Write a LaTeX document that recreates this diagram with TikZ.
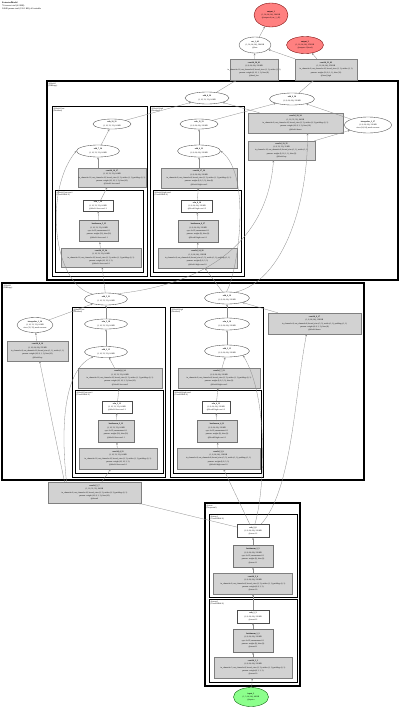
\documentclass[tikz,border=0pt]{standalone}
\usepackage{fontspec}
\setmainfont{Liberation Serif}
\usetikzlibrary{shapes.geometric,arrows.meta}
\tikzset{
 txt/.style={inner sep=0, align=center, font=\fontsize{2}{3.3}\selectfont},
 ell/.style={ellipse, draw=black!70, line width=0.35pt, fill=white, inner sep=0},
 gbox/.style={rectangle, draw=black!50, line width=0.35pt, fill=gray!35, inner sep=0},
 bnbox/.style={gbox, line width=1pt, draw=black!55},
 wbox/.style={rectangle, draw=black!70, line width=0.35pt, fill=white, inner sep=0},
 outell/.style={ell, fill=red!50, draw=red!45!black},
 inell/.style={ell, fill=green!45, draw=green!35!black},
 cla/.style={draw=black, line width=1.2pt},
 clb/.style={draw=black, line width=0.8pt},
 clc/.style={draw=black, line width=0.6pt},
 edge/.style={draw=black!45, line width=0.3pt, -{Stealth[length=2.2pt,width=1.8pt]}},
 cltxt/.style={anchor=north west, inner sep=0, align=left, font=\fontsize{2}{2.5}\selectfont},
}
\newcommand\mk[7]{\node[#2, minimum width=#5pt, minimum height=#6pt] (#1) at (#3,#4) {};
  \node[txt] (#1t) at (#1) {#7};}
\begin{document}
\begin{tikzpicture}[x=1pt,y=-1pt]
\useasboundingbox[fill=white] (0,0) rectangle (400,707);
\node[cltxt, font=\fontsize{2.2}{2.9}\selectfont] (hdr) at (2,2) {\textbf{ExtractedModel}\\76 tensors total (4.2 MB)\\34848 params total (136.1 KB), all trainable};

% clusters
\draw[cla] (47,81) rectangle (398,280);
\node[cltxt] (lblA) at (48.5,82.5) {@block1\\(HRStage)};
\draw[clb] (52,106) rectangle (147,276);
\node[cltxt] (lblAl) at (53.5,107.5) {@block1.low\\(Residual)};
\draw[clc] (55,190) rectangle (143,272);
\node[cltxt] (lblAls) at (56.5,191.5) {@block1.low.conv1\\(ConvBNReLU)};
\draw[clb] (150,106) rectangle (244,276);
\node[cltxt] (lblAh) at (151.5,107.5) {@block1.high\\(Residual)};
\draw[clc] (153,190) rectangle (241,272);
\node[cltxt] (lblAhs) at (154.5,191.5) {@block1.high.conv1\\(ConvBNReLU)};

\draw[cla] (2,283) rectangle (364,480);
\node[cltxt] (lblB) at (3.5,284.5) {@block2\\(HRStage)};
\draw[clb] (72,307) rectangle (165,477);
\node[cltxt] (lblBl) at (73.5,308.5) {@block2.low\\(Residual)};
\draw[clc] (75,390) rectangle (163,473);
\node[cltxt] (lblBls) at (76.5,391.5) {@block2.low.conv1\\(ConvBNReLU)};
\draw[clb] (170,307) rectangle (263,477);
\node[cltxt] (lblBh) at (171.5,308.5) {@block2.high\\(Residual)};
\draw[clc] (173,390) rectangle (261,473);
\node[cltxt] (lblBhs) at (174.5,391.5) {@block2.high.conv1\\(ConvBNReLU)};

\draw[cla] (205,503) rectangle (300,686);
\node[cltxt] (lblS) at (206.5,504.5) {@stem\\(Sequential)};
\draw[clb] (209,514) rectangle (297,597);
\node[cltxt] (lblS1) at (210.5,515.5) {@stem.1\\(ConvBNReLU)};
\draw[clb] (209,599) rectangle (297,682);
\node[cltxt] (lblS0) at (210.5,600.5) {@stem.0\\(ConvBNReLU)};

% top
\mk{out1}{outell}{271}{15}{34}{24}{\textbf{output\_1}\\(1, 24, 64, 64), 384 KB\\@outputs.0 (cat\_1\_46)}
\mk{cat}{ell}{255}{45}{32}{16}{\textbf{cat\_1\_46}\\(1, 24, 64, 64), 384 KB\\@fuse}
\mk{out2}{outell}{305}{45}{37}{17}{\textbf{output\_2}\\(1, 16, 64, 64), 256 KB\\@outputs.1 (head)}
\mk{c20}{gbox}{254}{69.5}{48}{21}{\textbf{conv2d\_20\_61}\\(1, 8, 64, 64), 128 KB\\in\_channels=16, out\_channels=8, kernel\_size=(1, 1), stride=(1, 1)\\params: weight (8, 16, 1, 1), bias (8)\\@head\_low}
\mk{c21}{gbox}{326}{69.5}{62}{21}{\textbf{conv2d\_21\_62}\\(1, 16, 64, 64), 256 KB\\in\_channels=8, out\_channels=16, kernel\_size=(1, 1), stride=(1, 1)\\params: weight (16, 8, 1, 1), bias (16)\\@head\_high}

% block1
\mk{addA}{ell}{207}{98}{44}{12}{\textbf{add\_8\_36}\\(1, 16, 32, 32), 64 KB}
\mk{addB}{ell}{292}{99}{45}{12}{\textbf{add\_9\_38}\\(1, 8, 64, 64), 128 KB}
\mk{c11}{gbox}{295.5}{123}{95}{20}{\textbf{conv2d\_18\_34}\\(1, 16, 32, 32), 64 KB\\in\_channels=8, out\_channels=16, kernel\_size=(3, 3), stride=(2, 2), padding=(1, 1)\\params: weight (16, 8, 3, 3), bias (16)\\@block1.down}
\mk{interp1}{ell}{368}{125}{47}{16}{\textbf{interpolate\_2\_37}\\(1, 8, 64, 64), 128 KB\\size=(64, 64), mode=nearest}
\mk{c12}{gbox}{281.5}{150.5}{67}{19}{\textbf{conv2d\_19\_35}\\(1, 8, 32, 32), 32 KB\\in\_channels=16, out\_channels=8, kernel\_size=(1, 1), stride=(1, 1)\\params: weight (8, 16, 1, 1), bias (8)\\@block1.up}
\mk{reluL1}{ell}{112}{124}{38}{10}{\textbf{relu\_10\_31}\\(1, 16, 32, 32), 64 KB}
\mk{addL1}{ell}{98}{151}{43}{12}{\textbf{add\_7\_30}\\(1, 16, 32, 32), 64 KB}
\mk{convL1}{gbox}{112}{177.5}{68}{19}{\textbf{conv2d\_16\_27}\\(1, 16, 32, 32), 64 KB\\in\_channels=16, out\_channels=16, kernel\_size=(3, 3), stride=(1, 1), padding=(1, 1)\\params: weight (16, 16, 3, 3), bias (16)\\@block1.low.conv2}
\mk{reluLs1}{wbox}{98}{205.5}{30}{11}{\textbf{relu\_7\_26}\\(1, 16, 32, 32), 64 KB\\@block1.low.conv1.2}
\mk{bnLs1}{bnbox}{99}{231}{39}{21}{\textbf{batchnorm\_5\_25}\\(1, 16, 32, 32), 64 KB\\eps=1e-05, momentum=0.1\\params: weight (16), bias (16)\\@block1.low.conv1.1}
\mk{convLs1}{gbox}{101}{257.5}{80}{19}{\textbf{conv2d\_15\_24}\\(1, 16, 32, 32), 64 KB\\in\_channels=16, out\_channels=16, kernel\_size=(3, 3), stride=(1, 1), padding=(1, 1)\\params: weight (16, 16, 3, 3)\\@block1.low.conv1.0}
\mk{reluH1}{ell}{199}{124}{38}{10}{\textbf{relu\_11\_33}\\(1, 8, 64, 64), 128 KB}
\mk{addH1}{ell}{199}{151}{43}{12}{\textbf{add\_6\_32}\\(1, 8, 64, 64), 128 KB}
\mk{convH1}{gbox}{199}{178}{76}{20}{\textbf{conv2d\_17\_29}\\(1, 8, 64, 64), 128 KB\\in\_channels=8, out\_channels=8, kernel\_size=(3, 3), stride=(1, 1), padding=(1, 1)\\params: weight (8, 8, 3, 3), bias (8)\\@block1.high.conv2}
\mk{reluHs1}{wbox}{197}{206}{31}{12}{\textbf{relu\_8\_28}\\(1, 8, 64, 64), 128 KB\\@block1.high.conv1.2}
\mk{bnHs1}{bnbox}{198}{231}{40}{22}{\textbf{batchnorm\_6\_27}\\(1, 8, 64, 64), 128 KB\\eps=1e-05, momentum=0.1\\params: weight (8), bias (8)\\@block1.high.conv1.1}
\mk{convHs1}{gbox}{197.5}{258}{79}{20}{\textbf{conv2d\_14\_26}\\(1, 8, 64, 64), 128 KB\\in\_channels=8, out\_channels=8, kernel\_size=(3, 3), stride=(1, 1), padding=(1, 1)\\params: weight (8, 8, 3, 3)\\@block1.high.conv1.0}

% block2
\mk{addC}{ell}{106}{299}{43}{12}{\textbf{add\_5\_21}\\(1, 16, 32, 32), 64 KB}
\mk{addD}{ell}{227}{298}{45}{12}{\textbf{add\_4\_19}\\(1, 8, 64, 64), 128 KB}
\mk{interp2}{ell}{35}{325}{36}{15}{\textbf{interpolate\_1\_20}\\(1, 16, 32, 32), 64 KB\\size=(32, 32), mode=nearest}
\mk{c6}{gbox}{37.5}{351}{61}{20}{\textbf{conv2d\_8\_16}\\(1, 16, 64, 64), 256 KB\\in\_channels=8, out\_channels=16, kernel\_size=(1, 1), stride=(1, 1)\\params: weight (16, 8, 1, 1), bias (16)\\@block2.up}
\mk{c7}{gbox}{314.5}{323.5}{93}{21}{\textbf{conv2d\_9\_17}\\(1, 8, 64, 64), 128 KB\\in\_channels=8, out\_channels=8, kernel\_size=(3, 3), stride=(1, 1), padding=(1, 1)\\params: weight (8, 8, 3, 3), bias (8)\\@block2.down}
\mk{reluL2}{ell}{106}{324}{43}{10}{\textbf{relu\_5\_18}\\(1, 16, 32, 32), 64 KB}
\mk{addL2}{ell}{106}{352}{43}{11}{\textbf{add\_2\_15}\\(1, 16, 32, 32), 64 KB}
\mk{convL2}{gbox}{120}{378}{84}{20}{\textbf{conv2d\_6\_14}\\(1, 16, 32, 32), 64 KB\\in\_channels=16, out\_channels=16, kernel\_size=(3, 3), stride=(1, 1), padding=(1, 1)\\params: weight (16, 16, 3, 3), bias (16)\\@block2.low.conv2}
\mk{reluLs2}{wbox}{117}{407}{30}{12}{\textbf{relu\_3\_13}\\(1, 16, 32, 32), 64 KB\\@block2.low.conv1.2}
\mk{bnLs2}{bnbox}{116}{431}{36}{22}{\textbf{batchnorm\_3\_12}\\(1, 16, 32, 32), 64 KB\\eps=1e-05, momentum=0.1\\params: weight (16), bias (16)\\@block2.low.conv1.1}
\mk{convLs2}{gbox}{118}{458.5}{78}{21}{\textbf{conv2d\_4\_11}\\(1, 16, 32, 32), 64 KB\\in\_channels=16, out\_channels=16, kernel\_size=(3, 3), stride=(1, 1), padding=(1, 1)\\params: weight (16, 16, 3, 3)\\@block2.low.conv1.0}
\mk{reluH2}{ell}{227}{324}{45}{12}{\textbf{relu\_6\_16}\\(1, 8, 64, 64), 128 KB}
\mk{addH2}{ell}{227}{351}{45}{12}{\textbf{add\_3\_15}\\(1, 8, 64, 64), 128 KB}
\mk{convH2}{gbox}{219}{378}{82}{20}{\textbf{conv2d\_7\_13}\\(1, 8, 64, 64), 128 KB\\in\_channels=8, out\_channels=8, kernel\_size=(3, 3), stride=(1, 1), padding=(1, 1)\\params: weight (8, 8, 3, 3), bias (8)\\@block2.high.conv2}
\mk{reluHs2}{wbox}{216}{407}{28}{12}{\textbf{relu\_4\_12}\\(1, 8, 64, 64), 128 KB\\@block2.high.conv1.2}
\mk{bnHs2}{bnbox}{217}{431}{40}{22}{\textbf{batchnorm\_4\_11}\\(1, 8, 64, 64), 128 KB\\eps=1e-05, momentum=0.1\\params: weight (8), bias (8)\\@block2.high.conv1.1}
\mk{convHs2}{gbox}{218.5}{458.5}{83}{21}{\textbf{conv2d\_3\_9}\\(1, 8, 64, 64), 128 KB\\in\_channels=8, out\_channels=8, kernel\_size=(3, 3), stride=(1, 1), padding=(1, 1)\\params: weight (8, 8, 3, 3)\\@block2.high.conv1.0}

\mk{c5}{gbox}{94.5}{492.5}{93}{21}{\textbf{conv2d\_5\_7}\\(1, 16, 32, 32), 64 KB\\in\_channels=8, out\_channels=16, kernel\_size=(3, 3), stride=(2, 2), padding=(1, 1)\\params: weight (16, 8, 3, 3), bias (16)\\@down0}

% stem
\mk{reluD1}{wbox}{253}{531}{32}{13}{\textbf{relu\_2\_6}\\(1, 8, 64, 64), 128 KB\\@stem.1.2}
\mk{bnD1}{bnbox}{253}{556}{40}{22}{\textbf{batchnorm\_2\_5}\\(1, 8, 64, 64), 128 KB\\eps=1e-05, momentum=0.1\\params: weight (8), bias (8)\\@stem.1.1}
\mk{convD1}{gbox}{253}{583.5}{79}{21}{\textbf{conv2d\_2\_4}\\(1, 8, 64, 64), 128 KB\\in\_channels=8, out\_channels=8, kernel\_size=(3, 3), stride=(1, 1), padding=(1, 1)\\params: weight (8, 8, 3, 3)\\@stem.1.0}
\mk{reluD0}{wbox}{253}{616.5}{32}{13}{\textbf{relu\_1\_3}\\(1, 8, 64, 64), 128 KB\\@stem.0.2}
\mk{bnD0}{bnbox}{253}{640.5}{40}{23}{\textbf{batchnorm\_1\_2}\\(1, 8, 64, 64), 128 KB\\eps=1e-05, momentum=0.1\\params: weight (8), bias (8)\\@stem.0.1}
\mk{convD0}{gbox}{253}{667.5}{78}{21}{\textbf{conv2d\_1\_1}\\(1, 8, 64, 64), 128 KB\\in\_channels=3, out\_channels=8, kernel\_size=(3, 3), stride=(1, 1), padding=(1, 1)\\params: weight (8, 3, 3, 3)\\@stem.0.0}
\mk{inp}{inell}{251}{697}{35}{19}{\textbf{input\_1}\\(1, 3, 64, 64), 48 KB\\@input.x}

% edges top
\draw[edge] (cat) -- (out1);
\draw[edge] (c20) -- (cat);
\draw[edge] (c21) -- (cat);
\draw[edge] (c21) -- (out2);
\draw[edge] (addA) -- (c20);
\draw[edge] (addB) -- (c21);
% block1
\draw[edge] (reluL1) -- (addA);
\draw[edge] (c11) -- (addA);
\draw[edge] (reluH1) -- (addB);
\draw[edge] (interp1) -- (addB);
\draw[edge] (c12) -- (interp1);
\draw[edge] (addL1) -- (reluL1);
\draw[edge] (addL1 |- convL1.north) -- (addL1);
\draw[edge] (reluLs1) -- (convL1);
\draw[edge] (bnLs1) -- (reluLs1);
\draw[edge] (convLs1) -- (bnLs1);
\draw[edge] (addH1) -- (reluH1);
\draw[edge] (convH1) -- (addH1);
\draw[edge] (reluHs1) -- (convH1);
\draw[edge] (bnHs1) -- (reluHs1);
\draw[edge] (convHs1) -- (bnHs1);
% block2 -> block1
\draw[edge] (addC) -- (convLs1);
\draw[edge] (addC.160) .. controls (52,284) and (44,190) .. (addL1.west);
\draw[edge] (addC.25) .. controls (215,283) and (268,235) .. ([xshift=-8pt]c12.south);
\draw[edge] (addD) -- (convHs1);
\draw[edge] (addD.95) .. controls (238,272) and (252,175) .. (addH1.east);
\draw[edge] (addD.35) .. controls (285,280) and (308,200) .. ([xshift=12pt]c11.south);
% block2
\draw[edge] (reluL2) -- (addC);
\draw[edge] (interp2) -- (addC);
\draw[edge] (c6) -- (interp2);
\draw[edge] (addL2) -- (reluL2);
\draw[edge] (convL2) -- (addL2);
\draw[edge] (reluLs2) -- (convL2);
\draw[edge] (bnLs2) -- (reluLs2);
\draw[edge] (convLs2) -- (bnLs2);
\draw[edge] (reluH2) -- (addD);
\draw[edge] (c7) -- (addD);
\draw[edge] (addH2) -- (reluH2);
\draw[edge] (convH2) -- (addH2);
\draw[edge] (reluHs2) -- (convH2);
\draw[edge] (bnHs2) -- (reluHs2);
\draw[edge] (convHs2) -- (bnHs2);
% c5
\draw[edge] (c5) -- (convLs2);
\draw[edge] ([xshift=-28pt]c5.north) .. controls (62,440) and (60,372) .. (addL2.200);
\draw[edge] ([xshift=-30pt]c5.north) -- (c6);
% stem
\draw[edge] (reluD1) -- (c5);
\draw[edge] (reluD1) -- (convHs2);
\draw[edge] (reluD1.75) .. controls (264,495) and (270,400) .. (addH2.south east);
\draw[edge] (reluD1.40) .. controls (292,490) and (294,400) .. ([xshift=-8pt]c7.south);
\draw[edge] (bnD1) -- (reluD1);
\draw[edge] (convD1) -- (bnD1);
\draw[edge] (reluD0) -- (convD1);
\draw[edge] (bnD0) -- (reluD0);
\draw[edge] (convD0) -- (bnD0);
\draw[edge] (inp) -- (convD0);
\end{tikzpicture}
\end{document}
